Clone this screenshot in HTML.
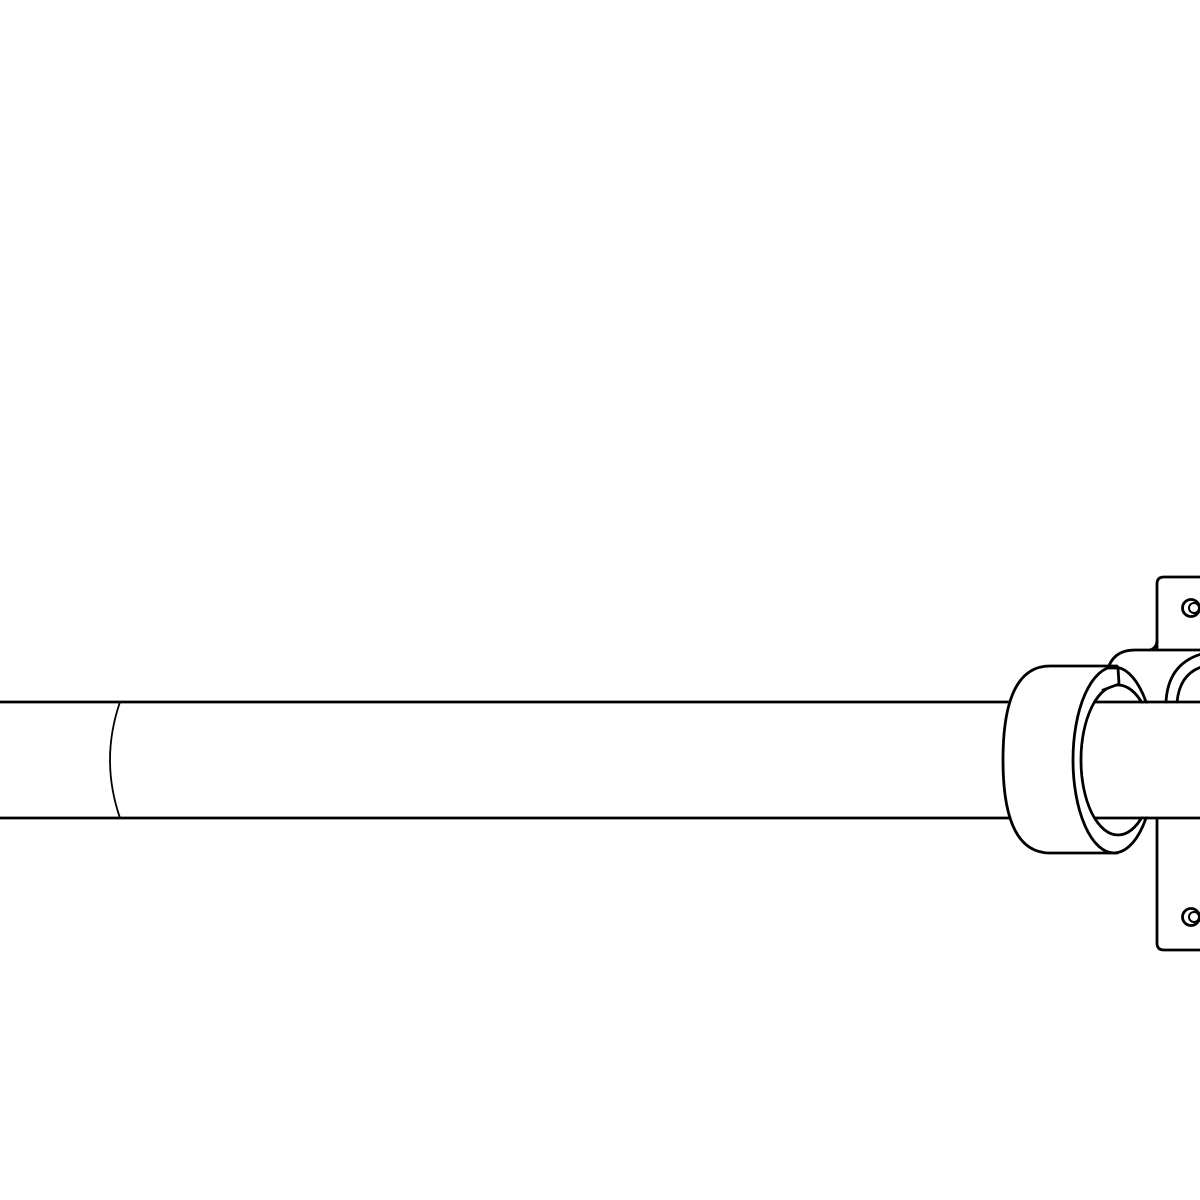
<!DOCTYPE html>
<html><head><meta charset="utf-8"><style>html,body{margin:0;padding:0;background:#fff}svg{display:block}</style></head>
<body>
<svg width="1200" height="1200" viewBox="0 0 1200 1200" xmlns="http://www.w3.org/2000/svg" fill="none" stroke="#000" stroke-width="2.8" stroke-linejoin="round" stroke-linecap="round">
<defs>
<clipPath id="band"><rect x="0" y="703.5" width="1200" height="113"/></clipPath>
</defs>
<rect width="1200" height="1200" fill="#fff" stroke="none"/>
<!-- top plate -->
<path d="M1157 648 L1157 584 Q1157 577 1164 577 L1205 577" fill="#fff"/>
<path d="M1150 650 Q1157 648 1157 640"/>
<!-- bottom plate -->
<path d="M1157 820 L1157 943 Q1157 950 1164 950 L1205 950" fill="#fff"/>
<!-- bolt holes -->
<circle cx="1191" cy="608" r="8.5" fill="#fff"/>
<circle cx="1194" cy="608" r="5" fill="#fff" stroke-width="2"/>
<circle cx="1191" cy="917" r="8.5" fill="#fff"/>
<circle cx="1194" cy="917" r="5" fill="#fff" stroke-width="2"/>
<!-- housing behind -->
<path d="M1107 672 Q1112 650 1135 650 L1205 650" fill="#fff"/>
<path d="M1166 702 Q1168 662 1205 653"/>
<path d="M1177 702 Q1180 672 1205 666"/>
<!-- shaft left part -->
<path d="M-5 702 L1010 702"/>
<path d="M-5 818 L1010 818"/>
<path d="M120 702 Q100 760 120 818" stroke-width="1.8"/>
<!-- collar body -->
<path d="M1040 666 L1117 666 L1117 853 L1050 853 Q1003 853 1003 760 Q1003 666 1040 666 Z" fill="#fff" stroke="none"/>
<path d="M1117 666 L1050 666 Q1003 666 1003 760 Q1003 853 1050 853 L1117 853"/>
<!-- front face -->
<ellipse cx="1114" cy="760" rx="41" ry="93" fill="#fff"/>
<!-- inner ring -->
<ellipse cx="1118" cy="760" rx="37" ry="75" fill="#fff"/>
<!-- notch -->
<path d="M1108 668 L1118 668 L1119 684 L1103 690" fill="#fff"/>
<!-- shaft through ring -->
<g clip-path="url(#band)">
<ellipse cx="1118" cy="760" rx="35.5" ry="73.5" fill="#fff" stroke="none"/>
<rect x="1118" y="700" width="90" height="120" fill="#fff" stroke="none"/>
</g>
<path d="M1095 702 L1205 702"/>
<path d="M1095 818 L1205 818"/>
</svg>
</body></html>
